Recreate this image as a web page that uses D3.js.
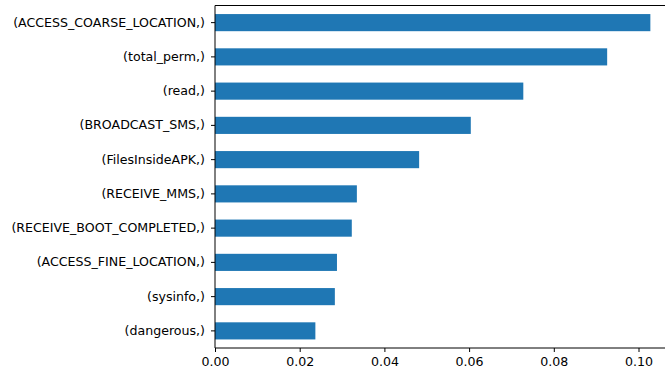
<!DOCTYPE html>
<html>
<head>
<meta charset="utf-8">
<script src="https://cdn.jsdelivr.net/npm/d3@7"></script>
<style>
  html, body { margin: 0; padding: 0; background: #fff; }
  svg { display: block; }
  text { font-family: "DejaVu Sans", sans-serif; fill: #000; }
</style>
</head>
<body>
<svg id="chart" width="665" height="366"></svg>
<script>
// Feature importances, listed from top bar to bottom bar
const features = [
  "(ACCESS_COARSE_LOCATION,)",
  "(total_perm,)",
  "(read,)",
  "(BROADCAST_SMS,)",
  "(FilesInsideAPK,)",
  "(RECEIVE_MMS,)",
  "(RECEIVE_BOOT_COMPLETED,)",
  "(ACCESS_FINE_LOCATION,)",
  "(sysinfo,)",
  "(dangerous,)"
];
const importances = [0.1028, 0.0926, 0.0728, 0.0604, 0.0482, 0.0335, 0.0323, 0.0288, 0.0283, 0.0237];
const xTicks = [0.00, 0.02, 0.04, 0.06, 0.08, 0.10];

const svg = d3.select("#chart");
const margin = { left: 215, top: 5.5, bottom: 18 };
const plotH = 366 - margin.top - margin.bottom;

// x domain carries a 5% margin past the longest bar, like pandas/matplotlib
const xMax = d3.max(importances) * 1.05;
const x = d3.scaleLinear().domain([0, xMax]).range([margin.left, margin.left + xMax * 4235]);

const y = d3.scaleBand()
  .domain(features)
  .range([margin.top, margin.top + plotH])
  .paddingInner(0.5)
  .paddingOuter(0.25);

const data = features.map((f, i) => ({ f, v: importances[i] }));

svg.append("g").selectAll("rect")
  .data(data)
  .join("rect")
  .attr("x", x(0))
  .attr("y", d => y(d.f))
  .attr("width", d => x(d.v) - x(0))
  .attr("height", y.bandwidth())
  .attr("fill", "#1f77b4");

// axes frame
const yTop = margin.top, yBottom = margin.top + plotH;
const frame = svg.append("g").attr("stroke", "#000").attr("stroke-width", 1).attr("fill", "none");
frame.append("line").attr("x1", x(0)).attr("x2", x(0)).attr("y1", yTop).attr("y2", yBottom);
frame.append("line").attr("x1", x(0)).attr("x2", x.range()[1]).attr("y1", yTop).attr("y2", yTop);
frame.append("line").attr("x1", x(0)).attr("x2", x.range()[1]).attr("y1", yBottom).attr("y2", yBottom);
frame.append("line").attr("x1", x.range()[1]).attr("x2", x.range()[1]).attr("y1", yTop).attr("y2", yBottom);

const xAxis = d3.axisBottom(x).tickValues(xTicks).tickFormat(d3.format(".2f")).tickSize(4).tickPadding(5.5);
const gx = svg.append("g").attr("transform", `translate(0,${yBottom})`).call(xAxis);
gx.select(".domain").remove();

const yAxis = d3.axisLeft(y).tickSize(4).tickPadding(6);
const gy = svg.append("g").attr("transform", `translate(${x(0)},0)`).call(yAxis);
gy.select(".domain").remove();

svg.selectAll(".tick text").attr("font-size", 12.6).attr("font-family", "DejaVu Sans, sans-serif").attr("fill", "#000");
svg.selectAll(".tick line").attr("stroke", "#000");
</script>
</body>
</html>
